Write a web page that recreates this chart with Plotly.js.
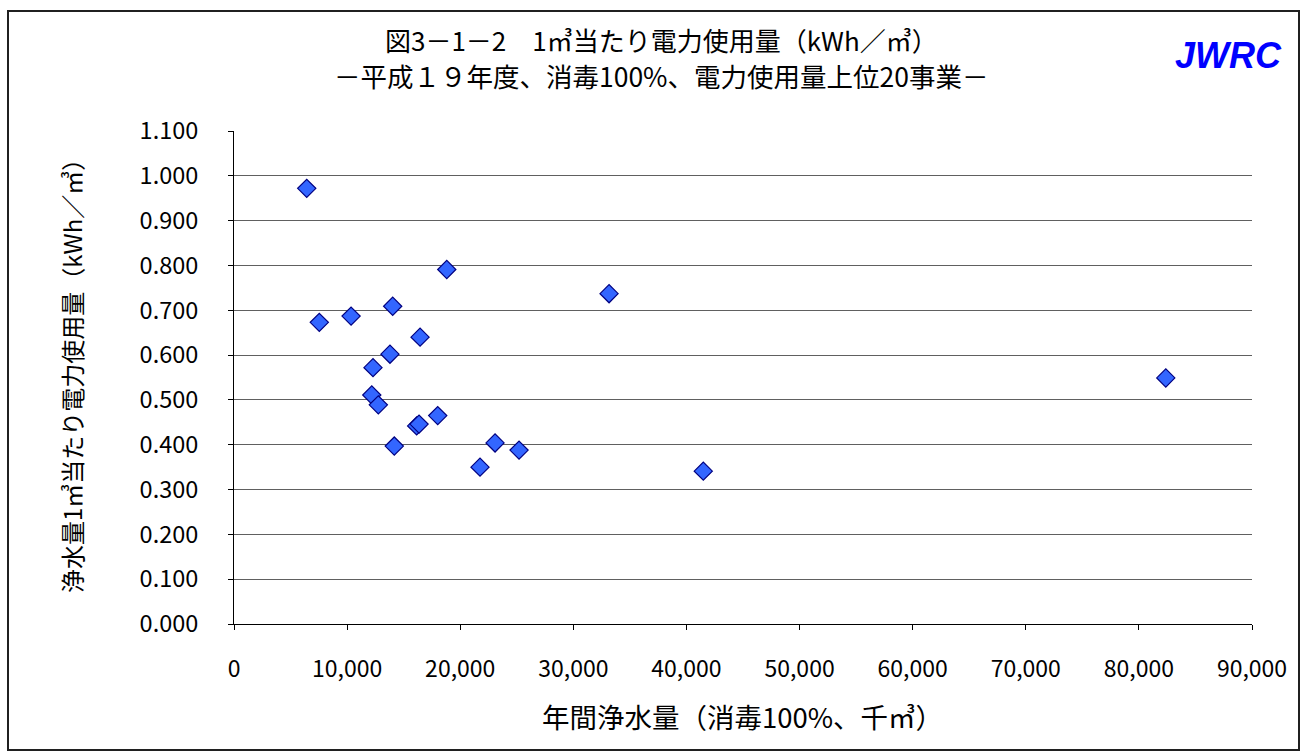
<!DOCTYPE html>
<html>
<head>
<meta charset="utf-8">
<script src="https://cdn.plot.ly/plotly-3.0.1.min.js"></script>
<style>
  html, body { margin: 0; padding: 0; background: #fff; }
  #chart { width: 1303px; height: 753px; }
</style>
</head>
<body>
<div id="chart"></div>
<script>
// Annual purified water volume (thousand m3, 100% disinfection)
const waterVolume = [6430, 7540, 10350, 14030, 18810, 33160, 16450, 13790, 12290, 12180,
                     12760, 16150, 16360, 18010, 14170, 23080, 25200, 21750, 41490, 82380];
// Electricity use per m3 of purified water (kWh/m3)
const powerPerM3 = [0.972, 0.673, 0.687, 0.709, 0.791, 0.737, 0.640, 0.602, 0.572, 0.511,
                    0.489, 0.442, 0.446, 0.465, 0.397, 0.404, 0.388, 0.350, 0.341, 0.549];

const yTickVals = [0, 0.1, 0.2, 0.3, 0.4, 0.5, 0.6, 0.7, 0.8, 0.9, 1.0, 1.1];
const yTickText = ['0.000', '0.100', '0.200', '0.300', '0.400', '0.500', '0.600',
                   '0.700', '0.800', '0.900', '1.000', '1.100'];
const xTickVals = [0, 10000, 20000, 30000, 40000, 50000, 60000, 70000, 80000, 90000];
const xTickText = ['0', '10,000', '20,000', '30,000', '40,000', '50,000', '60,000',
                   '70,000', '80,000', '90,000'];

const titleMain = '図3－1－2　1㎥当たり電力使用量（kWh／㎥）';
const titleSub = '－平成１９年度、消毒100%、電力使用量上位20事業－';
const xTitle = '年間浄水量（消毒100%、千㎥）';
const yTitle = '浄水量1㎥当たり電力使用量（kWh／㎥）';
const logoText = 'JWRC';

const FONT = '"Noto Sans CJK JP", "Noto Sans", sans-serif';

// plot area in pixels, used to place the frame and the header texts
const W = 1303, H = 753;
const PL = 234, PR = 1252, PT = 131, PB = 624;
const px = v => (v - PL) / (PR - PL);
const py = v => (PB - v) / (PB - PT);

const trace = {
  type: 'scatter',
  mode: 'markers',
  x: waterVolume,
  y: powerPerM3,
  marker: {
    symbol: 'diamond',
    size: 14,
    color: '#3366ff',
    line: { color: '#000080', width: 1.2 }
  },
  hoverinfo: 'x+y'
};

const layout = {
  width: W,
  height: H,
  margin: { l: PL, r: W - PR, t: PT, b: H - PB },
  paper_bgcolor: '#ffffff',
  plot_bgcolor: '#ffffff',
  showlegend: false,
  font: { family: FONT, color: '#000', size: 23 },
  xaxis: {
    range: [0, 90000],
    tickvals: xTickVals,
    ticktext: xTickText,
    showgrid: false,
    zeroline: false,
    showline: true,
    linecolor: '#000',
    linewidth: 1,
    ticks: 'outside',
    ticklen: 5,
    tickcolor: '#000',
    ticklabelstandoff: 19,
    tickfont: { family: FONT, size: 23, color: '#000' },
    fixedrange: true
  },
  yaxis: {
    range: [0, 1.1],
    tickvals: yTickVals,
    ticktext: yTickText,
    showgrid: true,
    gridcolor: '#606060',
    gridwidth: 1,
    zeroline: false,
    showline: true,
    linecolor: '#000',
    linewidth: 1,
    ticks: 'outside',
    ticklen: 5,
    tickcolor: '#000',
    ticklabelstandoff: 25,
    tickfont: { family: FONT, size: 23.5, color: '#000' },
    fixedrange: true
  },
  shapes: [
    // outer frame of the chart
    {
      type: 'rect', xref: 'paper', yref: 'paper',
      x0: px(8), x1: px(1299),
      y0: py(750), y1: py(11),
      line: { color: '#202020', width: 2 },
      fillcolor: 'rgba(0,0,0,0)',
      layer: 'below'
    }
  ],
  annotations: [
    // chart title
    {
      text: titleMain,
      xref: 'paper', yref: 'paper',
      x: px(661), y: py(40),
      xanchor: 'center', yanchor: 'middle',
      borderpad: 0,
      showarrow: false,
      font: { family: FONT, size: 26, color: '#000' }
    },
    // subtitle
    {
      text: titleSub,
      xref: 'paper', yref: 'paper',
      x: px(661), y: py(76),
      xanchor: 'center', yanchor: 'middle',
      borderpad: 0,
      showarrow: false,
      font: { family: FONT, size: 26.5, color: '#000' }
    },
    // x axis title
    {
      text: xTitle,
      xref: 'paper', yref: 'paper',
      x: px(742), y: py(716),
      xanchor: 'center', yanchor: 'middle',
      showarrow: false,
      font: { family: FONT, size: 27.5, color: '#000' }
    },
    // y axis title
    {
      text: yTitle,
      xref: 'paper', yref: 'paper',
      x: px(71), y: py(370),
      xanchor: 'center', yanchor: 'middle',
      textangle: -90,
      showarrow: false,
      font: { family: FONT, size: 24, color: '#000' }
    },
    // logo
    {
      text: '<b><i>' + logoText + '</i></b>',
      xref: 'paper', yref: 'paper',
      x: px(1228), y: py(55),
      xanchor: 'center', yanchor: 'middle',
      showarrow: false,
      font: { family: 'Liberation Sans, Arial, sans-serif', size: 36, color: '#0000ff' }
    }
  ]
};

Plotly.newPlot('chart', [trace], layout, { displayModeBar: false, staticPlot: true });
</script>
</body>
</html>
